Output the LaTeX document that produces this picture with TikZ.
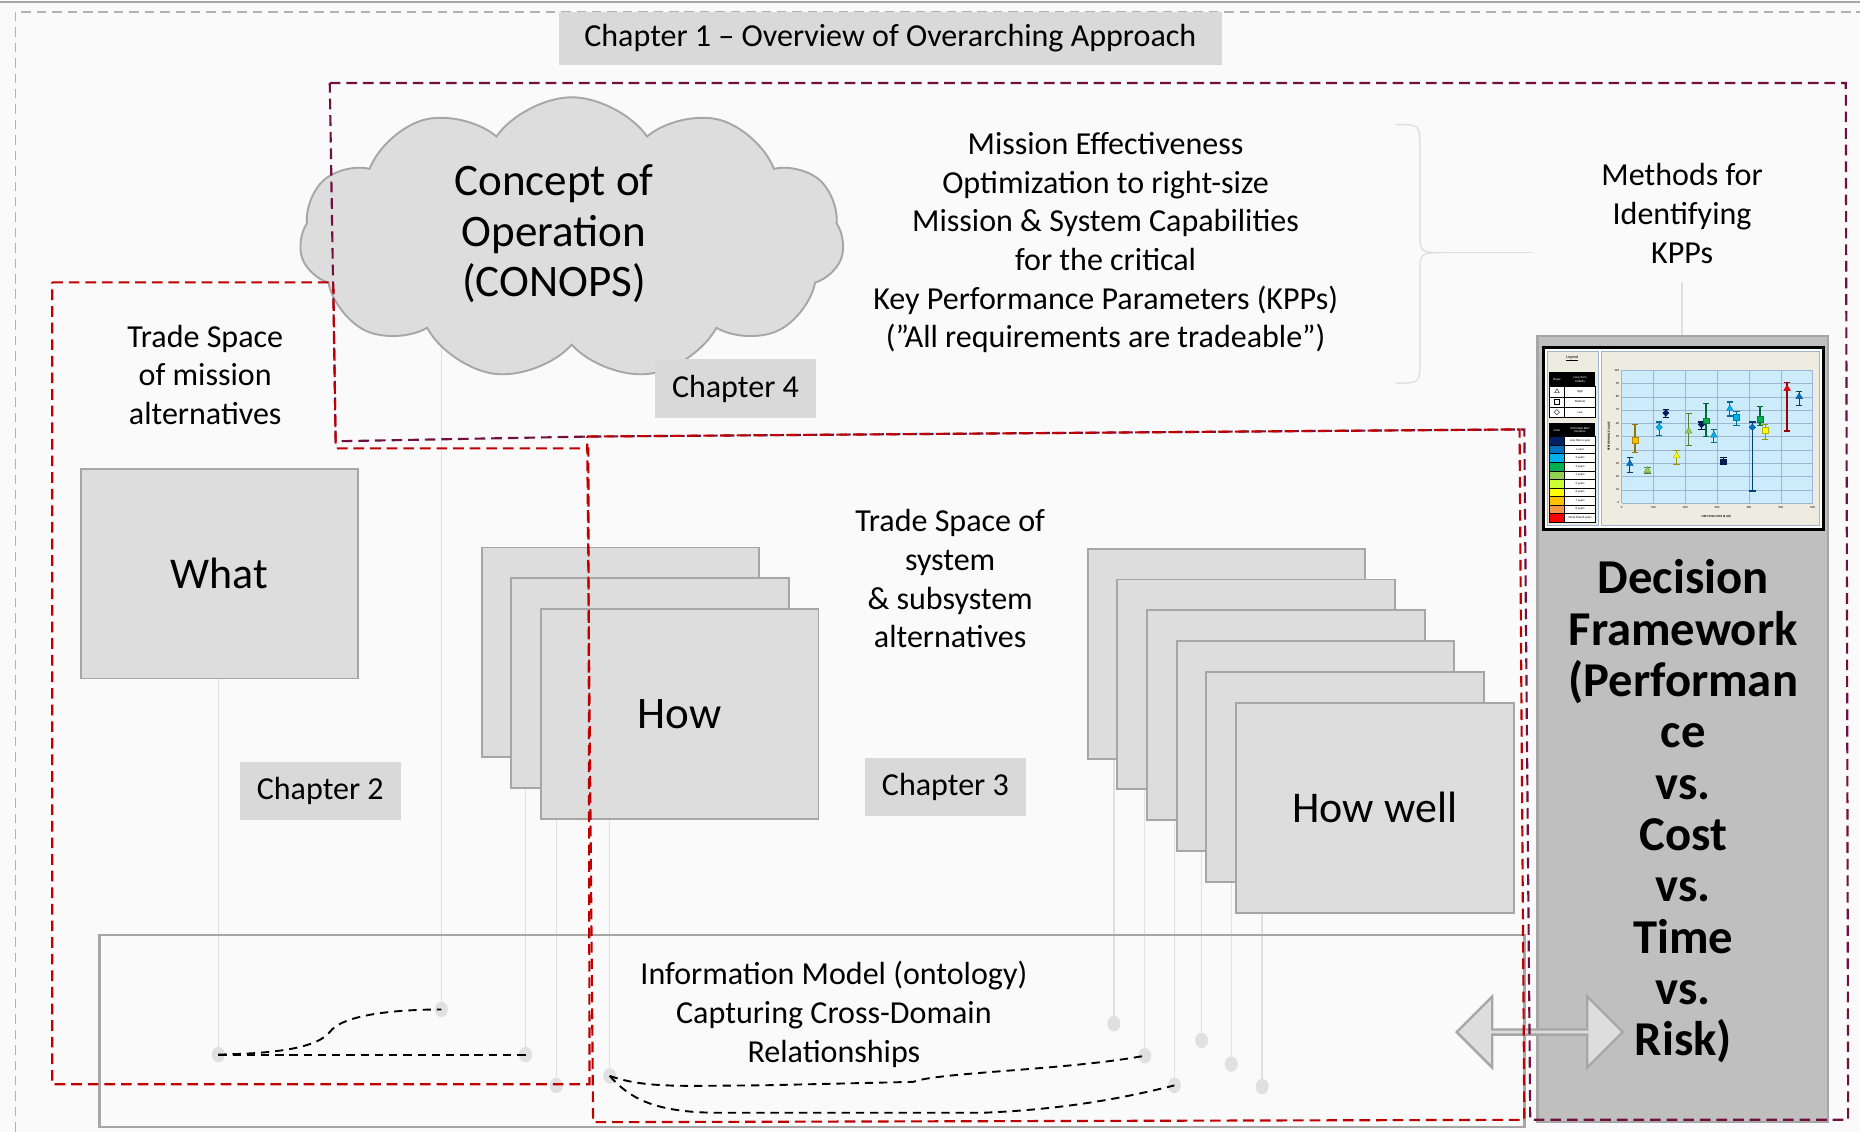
\documentclass[tikz,border=0pt]{standalone}
\usepackage{fontspec}
\setmainfont{Carlito}
\usetikzlibrary{shapes,arrows,positioning,fit,backgrounds}
\definecolor{boxgray}{RGB}{221,221,221}
\definecolor{edgegray}{RGB}{166,166,166}
\definecolor{labelgray}{RGB}{217,217,217}
\definecolor{panelgray}{RGB}{191,191,191}
\definecolor{stemgray}{RGB}{224,224,224}
\definecolor{pagebg}{RGB}{250,250,250}
\definecolor{zonered}{RGB}{192,0,0}
\definecolor{zonemaroon}{RGB}{112,16,64}
\definecolor{chartbg}{RGB}{238,236,225}
\definecolor{plotblue}{RGB}{204,236,252}
\definecolor{legendline}{RGB}{160,180,210}
\definecolor{altnavy}{RGB}{0,32,96}
\definecolor{altblue}{RGB}{0,112,192}
\definecolor{altsky}{RGB}{0,176,240}
\definecolor{altgreen}{RGB}{0,176,80}
\definecolor{altlime}{RGB}{146,208,80}
\definecolor{altchart}{RGB}{204,255,51}
\definecolor{altyellow}{RGB}{255,255,0}
\definecolor{altamber}{RGB}{255,192,0}
\definecolor{altorange}{RGB}{247,150,70}
\definecolor{altred}{RGB}{255,0,0}

\begin{document}
\begin{tikzpicture}[x=1pt, y=-1pt,
    box/.style={rectangle, draw=edgegray, line width=1.6pt, fill=boxgray, minimum width=234, minimum height=177, inner sep=0pt, font=\fontsize{37}{40}\selectfont},
    chap/.style={rectangle, fill=labelgray, minimum width=136, minimum height=49, font=\fontsize{27}{30}\selectfont},
    txt/.style={align=center, font=\fontsize{27}{32.6}\selectfont},
    dot/.style={ellipse, fill=stemgray, minimum width=11, minimum height=13, inner sep=0pt},
    stemline/.style={draw=stemgray, line width=1.2pt},
    link/.style={line width=1.6pt, dash pattern=on 7pt off 5pt},
    redzone/.style={draw=zonered, line width=1.8pt, dash pattern=on 9pt off 5pt},
    maroonzone/.style={draw=zonemaroon, line width=1.8pt, dash pattern=on 9pt off 5pt},
    tinytxt/.style={font=\fontsize{2.6}{3}\selectfont, inner sep=0.3pt},
    mktri/.style={regular polygon, regular polygon sides=3, minimum size=6.5pt, inner sep=0pt},
    mksq/.style={rectangle, minimum size=4.8pt, inner sep=0pt},
    mkdia/.style={diamond, minimum size=5.5pt, inner sep=0pt}
]
\useasboundingbox (0,0) rectangle (1568,954);

% page frame
\draw[gray!70, line width=1.5] (0,2) -- (1568,2);
\draw[gray!60, line width=1.5, dash pattern=on 8pt off 5pt] (13,954) -- (13,10) -- (1568,10);

% Chapter 1 title
\node[chap, minimum width=559, minimum height=45] (ch1) at (750.5,32.5) {Chapter 1 – Overview of Overarching Approach};

% CONOPS cloud
\node[cloud, cloud puffs=11, cloud puff arc=110, aspect=1.9, draw=edgegray, line width=1.6, fill=boxgray,
      minimum width=459, minimum height=238, inner sep=0pt] (conops) at (482,201) {};
\node[align=center, font=\fontsize{38}{42.5}\selectfont] (conopstext) at (467,197) {Concept of\\Operation\\(CONOPS)};
\node[chap] (ch4) at (620,327.5) {Chapter 4};

% Mission effectiveness text and brace
\node[txt] (mission) at (932,204.5) {Mission Effectiveness\\Optimization to right-size\\Mission \& System Capabilities\\for the critical\\Key Performance Parameters (KPPs)\\(”All requirements are tradeable”)};
\draw[stemline] (1177,105) .. controls (1197,105) .. (1197,125) -- (1197,195)
    .. controls (1197,213) .. (1218,213) .. controls (1197,213) .. (1197,231)
    -- (1197,303) .. controls (1197,323) .. (1177,323);
\coordinate (bracetip) at (1218,213);
\coordinate (braceend) at (1292,213);
\draw[stemline] (bracetip) -- (braceend);
\node[txt] (methods) at (1418,180) {Methods for\\Identifying\\KPPs};

% What
\node[txt] (missiontrade) at (173,316) {Trade Space\\of mission\\alternatives};
\node[box] (what) at (185,483.5) {What};
\node[chap] (ch2) at (270,667) {Chapter 2};

% How
\node[box] (how1) at (523,550) {};
\node[box] (how2) at (548,576) {};
\node[box, font=\fontsize{38}{40}\selectfont] (how3) at (573,602) {How};
\node[txt] (systrade) at (801,488) {Trade Space of\\system\\\& subsystem\\alternatives};
\node[chap] (ch3) at (797,663.5) {Chapter 3};

% How well
\foreach \i in {1,...,5}
    \node[box] (hw\i) at ({1034+25*(\i-1)},{551+26*(\i-1)}) {};
\node[box] (hw6) at (1159,681) {How well};

% Information model
\node[draw=edgegray, line width=2, minimum width=1201, minimum height=162] (infomodel) at (684.5,869) {};
\node[txt] (infotext) at (703,855) {Information Model (ontology)\\Capturing Cross-Domain\\Relationships};

% Decision framework
\node[rectangle, draw=edgegray, line width=2, fill=panelgray, minimum width=245, minimum height=663] (decision) at (1418.5,614.5) {};
\node[align=center, font=\fontsize{41}{43.3}\selectfont\bfseries] (dftext) at (1419,684) {Decision\\Framework\\(Performan\\ce\\vs.\\Cost\\vs.\\Time\\vs.\\Risk)};
\coordinate (mtail) at (1418,238);
\draw[stemline] (mtail) -- (mtail |- decision.north);

% KPP chart
\draw[line width=2.5, black, fill=white] (1301,293) rectangle (1537,446);
\draw[fill=chartbg, draw=legendline, line width=0.6] (1304,296) rectangle (1347,443);
\draw[fill=chartbg, draw=legendline, line width=0.6] (1350,296) rectangle (1534,443);
\node[tinytxt, font=\fontsize{3.4}{4}\selectfont] (legend) at (1325.5,302) {\underline{Legend}};
\fill[black] (1306,314) rectangle (1345,326);
\node[tinytxt, text=white] at (1312.5,320) {Shape};
\node[tinytxt, text=white, align=center] at (1332,320) {Long Term\\Viability};
\foreach \lab/\shp [count=\k] in {High/mktri, Medium/mksq, Low/mkdia} {
    \draw[black, fill=white, line width=0.3] (1306,{317+8.7*\k}) rectangle (1319,{325.7+8.7*\k});
    \draw[black, fill=white, line width=0.3] (1319,{317+8.7*\k}) rectangle (1345,{325.7+8.7*\k});
    \node[\shp, draw=black, line width=0.3, minimum size=4.5pt] at (1312.5,{321.3+8.7*\k}) {};
    \node[tinytxt] at (1332,{321.3+8.7*\k}) {\lab};
}
\fill[black] (1306,357) rectangle (1345,368);
\node[tinytxt, text=white] at (1312.5,362.5) {Color};
\node[tinytxt, text=white, align=center] at (1332,362.5) {Estimated R\&D\\Duration};
\foreach \col/\lab [count=\k] in {altnavy/Less than a year, altblue/1 year, altsky/2 years, altgreen/3 years,
        altlime/4 years, altchart/5 years, altyellow/6 years, altamber/7 years, altorange/8 years, altred/More than 8 years} {
    \draw[black, fill=\col, line width=0.3] (1306,{360.8+7.2*\k}) rectangle (1319,{368+7.2*\k});
    \draw[black, fill=white, line width=0.3] (1319,{360.8+7.2*\k}) rectangle (1345,{368+7.2*\k});
    \node[tinytxt] at (1332,{364.4+7.2*\k}) {\lab};
}
\fill[plotblue] (1367,312) rectangle (1528,424);
\begin{scope}[shift={(1367,424)}, x=0.2683pt, y=1.12pt]
    \foreach \v in {0,10,...,100} {
        \draw[legendline, line width=0.3] (0,\v) -- (600,\v);
        \node[tinytxt, anchor=east] at (-6,\v) {\v};
    }
    \foreach \v in {0,100,...,600} {
        \draw[legendline, line width=0.3] (\v,0) -- (\v,100);
        \node[tinytxt, anchor=north] at (\v,-2) {\v};
    }
    \node[tinytxt, font=\fontsize{2.6}{3}\selectfont\bfseries, rotate=90] at (-40,50) {PERFORMANCE VALUE};
    \node[tinytxt, font=\fontsize{2.6}{3}\selectfont\bfseries] at (298,-10) {LIFE CYCLE COST (\$ mil)};
    \foreach \c/\lo/\m/\hi/\col/\shp in {
        26/23/29.5/34/altblue/mktri, 42/38/47.5/59/altamber/mksq, 81/22/24.5/27/altlime/mktri,
        118/51/57/61/altsky/mkdia, 139/64.5/67.8/70.5/altnavy/mkdia, 173/29/35.5/39.5/altyellow/mktri,
        211/43/54/67.5/altlime/mktri, 251/55.5/59/61/altnavy/mkdia, 265/50/62/75/altgreen/mksq,
        290/45.5/51/55.5/altsky/mktri, 320/28.8/31/34.5/altnavy/mksq, 340/65.5/71/76/altsky/mktri,
        361/58.5/64.5/69/altsky/mksq, 411/9/57/61/altblue/mkdia, 435/58.5/63/72.5/altgreen/mksq,
        451/48/55/59/altyellow/mksq, 520/54.2/86/90.5/altred/mktri, 558/73.5/80/84/altblue/mktri} {
        \draw[draw=\col!60!black, line width=1] (\c,\lo) -- (\c,\hi);
        \draw[draw=\col!60!black, line width=1] ({\c-10},\lo) -- ({\c+10},\lo);
        \draw[draw=\col!60!black, line width=1] ({\c-10},\hi) -- ({\c+10},\hi);
        \node[\shp, fill=\col, draw=\col!70!black, line width=0.3] at (\c,\m) {};
    }
\end{scope}

% connection dots
\node[dot] (dwhat) at (184,889) {};
\node[dot] (dcon) at (372,851) {};
\node[dot] (dhow1) at (443,889) {};
\node[dot] (dhow2) at (469,915) {};
\node[dot] (dhow3) at (514,907) {};
\node[dot] (dhw1) at (939,863) {};
\node[dot] (dhw2) at (965,890) {};
\node[dot] (dhw3) at (990,915) {};
\node[dot] (dhw4) at (1013,877) {};
\node[dot] (dhw5) at (1038,897) {};
\node[dot] (dhw6) at (1064,916) {};

% cross-domain links
\draw[link] (dwhat.center) -- (dhow1.center);
\draw[link] (dwhat.center) .. controls (240,888) and (268,882) .. (278,870)
    .. controls (288,856) and (330,851) .. (dcon.center);
\draw[link] (dhow3.center) .. controls (545,918) and (580,915) .. (640,915) -- (770,912)
    .. controls (790,904) and (900,902) .. (dhw2.center);
\draw[link] (dhow3.center) .. controls (530,925) and (550,937) .. (600,938) -- (830,938)
    .. controls (900,935) and (950,925) .. (dhw3.center);

% two-way arrow
\node[double arrow, draw=edgegray, fill=boxgray, line width=2, minimum height=140, minimum width=60,
      double arrow head extend=13, inner sep=0pt] (bidir) at (1298,870) {};

% chapter regions
\draw[maroonzone] (278,70) -- (1556,70) -- (1558,944) -- (1290,944) -- (1285,362) -- (497,368) -- (283,372) -- cycle;
\draw[redzone] (44,238) -- (281,238) -- (283,378) -- (496,378) -- (497,914) -- (44,914) -- cycle;
\draw[redzone] (495,368) -- (1281,362) -- (1285,944) -- (500,946) -- cycle;

% stems behind
\begin{scope}[on background layer]
\fill[pagebg] (0,0) rectangle (1568,954);
\draw[stemline] (dwhat.north) -- (dwhat |- what.center);
\draw[stemline] (dcon.north) -- (dcon |- conops.center);
\draw[stemline] (dhow1.north) -- (dhow1 |- how2.center);
\draw[stemline] (dhow2.north) -- (dhow2 |- how3.center);
\draw[stemline] (dhow3.north) -- (dhow3 |- how3.center);
\foreach \i in {1,...,6}
    \draw[stemline] (dhw\i.north) -- (dhw\i |- hw\i.center);
\end{scope}

\end{tikzpicture}
\end{document}
